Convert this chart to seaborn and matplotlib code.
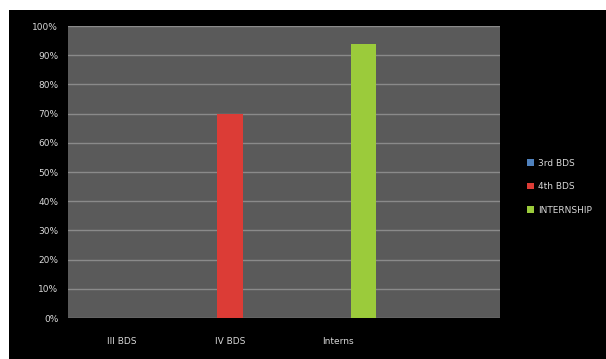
import pandas as pd
import numpy as np
import matplotlib.pyplot as plt
import seaborn as sns
from matplotlib.patches import Rectangle

groups = ["III BDS", "IV BDS", "Interns", " "]
series = ["3rd BDS", "4th BDS", "INTERNSHIP"]
# value of each series in each group (fraction); only the diagonal was filled
values = {
    "3rd BDS": [0.0, np.nan, np.nan, np.nan],
    "4th BDS": [np.nan, 0.70, np.nan, np.nan],
    "INTERNSHIP": [np.nan, np.nan, 0.94, np.nan],
}
colors = ["#4f81bd", "#dc3c36", "#9bcb3b"]

rows = []
for s in series:
    for g, v in zip(groups, values[s]):
        rows.append({"Group": g, "Series": s, "Value": v})
df = pd.DataFrame(rows)

sns.set_style("dark")
plt.rcParams["font.family"] = ["DejaVu Sans"]

fig = plt.figure(figsize=(6.06, 3.59), dpi=100, facecolor="white")
fig.patches.append(Rectangle((9 / 606, 0), 597 / 606, 349 / 359,
                             transform=fig.transFigure, facecolor="black",
                             edgecolor="none", zorder=-10))

ax = fig.add_axes([68 / 606, 41 / 359, 432 / 606, 292 / 359])
ax.set_facecolor("#5a5a5a")

sns.barplot(data=df, x="Group", y="Value", hue="Series", order=groups,
            hue_order=series, palette=colors, width=0.7, saturation=1,
            ax=ax, edgecolor="none", legend=False, zorder=3)

ax.set_xlim(-0.5, len(groups) - 0.5)
ax.set_ylim(0, 1)
ax.set_yticks(np.arange(0, 1.01, 0.1))
ax.set_yticklabels([f"{int(round(t * 100))}%" for t in np.arange(0, 1.01, 0.1)])
ax.yaxis.grid(True, color="#8a8a8a", linewidth=1.0, zorder=1)
ax.xaxis.grid(False)
ax.set_axisbelow(True)

ax.set_xticks(range(len(groups)))
ax.set_xticks(np.arange(0.5, len(groups) - 0.5, 1), minor=True)
ax.tick_params(axis="x", which="major", length=0, pad=14, labelsize=6.5,
               labelcolor="#d8d8d8")
ax.tick_params(axis="x", which="minor", length=3, color="#8a8a8a", direction="out")
ax.tick_params(axis="y", length=3, color="#8a8a8a", labelsize=6.5,
               labelcolor="#d8d8d8", pad=4)
for sp in ax.spines.values():
    sp.set_visible(False)
ax.set_xlabel("")
ax.set_ylabel("")

handles = [Rectangle((0, 0), 1, 1, facecolor=c, edgecolor="none") for c in colors]
fig.legend(handles, series, loc="center left", bbox_to_anchor=(0.857, 0.48),
           frameon=False, fontsize=6.5, labelcolor="#d8d8d8",
           handlelength=0.7, handleheight=0.7, handletextpad=0.5,
           labelspacing=1.6)

fig.savefig("out.png", dpi=100, facecolor=fig.get_facecolor())
